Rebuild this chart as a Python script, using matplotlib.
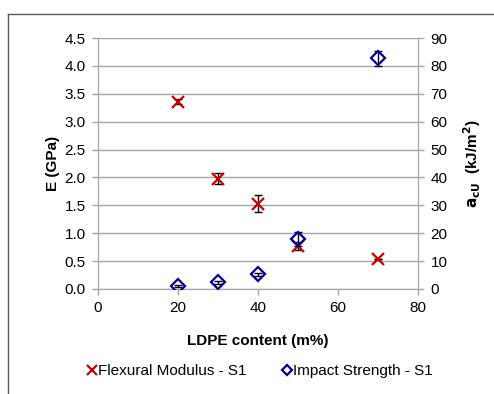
import matplotlib
matplotlib.use("Agg")
import matplotlib.pyplot as plt
from matplotlib.lines import Line2D

plt.rcParams['font.family'] = ['Liberation Sans', 'DejaVu Sans']
plt.rcParams['font.size'] = 11

ldpe_flex = [20, 30, 40, 50, 70]
modulus = [3.36, 1.98, 1.53, 0.77, 0.54]
modulus_err = [0.05, 0.10, 0.15, 0.07, 0.0]

ldpe_imp = [20, 30, 40, 50, 70]
impact = [1.0, 2.4, 5.2, 17.9, 82.8]
impact_err = [0.3, 0.5, 0.6, 2.6, 2.7]

fig = plt.figure(figsize=(4.94, 3.94), dpi=100)
ax = fig.add_axes([98/494, 1-289/394, (418-98)/494, (289-38)/394])
ax2 = ax.twinx()

grid_c = '#a6a6a6'
ax.set_xlim(0, 80)
ax.set_ylim(0, 4.5)
ax2.set_ylim(0, 90)
ax.set_xticks([0, 20, 40, 60, 80])
ax.set_yticks([i*0.5 for i in range(10)])
ax.set_yticklabels([f"{i*0.5:.1f}" for i in range(10)])
ax2.set_yticks(range(0, 91, 10))
ax.yaxis.grid(True, color=grid_c, linewidth=1)
ax.set_axisbelow(True)
for a in (ax, ax2):
    for s in a.spines.values():
        s.set_color(grid_c)
    a.spines['top'].set_visible(False)
    a.tick_params(colors='black', length=4, width=1, color=grid_c, labelsize=11, pad=5)

ax.errorbar(ldpe_flex, modulus, yerr=modulus_err, fmt='none', ecolor='black',
            elinewidth=1, capsize=3, capthick=1, zorder=3)
ax.plot(ldpe_flex, modulus, linestyle='none', marker='x', color='#cc0000',
        markersize=9, markeredgewidth=1.6, zorder=4)
ax2.errorbar(ldpe_imp, impact, yerr=impact_err, fmt='none', ecolor='black',
             elinewidth=1, capsize=3, capthick=1, zorder=3)
ax2.plot(ldpe_imp, impact, linestyle='none', marker='D', markerfacecolor='none',
         markeredgecolor='#000099', markersize=7, markeredgewidth=1.6, zorder=4)

ax.set_xlabel('LDPE content (m%)', fontweight='bold', fontsize=11, labelpad=13)
ax.set_ylabel('E (GPa)', fontweight='bold', fontsize=11, labelpad=3)
ax2.set_ylabel(r'$\mathbf{a_{cU}}$  (kJ/m$^\mathbf{2}$)', fontweight='bold', fontsize=11, labelpad=10)

handles = [
    Line2D([], [], linestyle='none', marker='x', color='#cc0000', markersize=7, markeredgewidth=1.6),
    Line2D([], [], linestyle='none', marker='D', markerfacecolor='none', markeredgecolor='#000099',
           markersize=5.5, markeredgewidth=1.6),
]
fig.legend(handles, ['Flexural Modulus - S1', 'Impact Strength - S1'], loc='center',
           bbox_to_anchor=(260/494, 1-371/394), ncol=2, frameon=False, fontsize=11,
           handlelength=0.6, handletextpad=0.1, columnspacing=2.3)

border_c = '#595959'
fig.add_artist(Line2D([8/494, 1], [1-14/394, 1-14/394], transform=fig.transFigure, color=border_c, linewidth=1))
fig.add_artist(Line2D([8/494, 8/494], [0, 1-14/394], transform=fig.transFigure, color=border_c, linewidth=1))

fig.savefig('out.png', dpi=100)
